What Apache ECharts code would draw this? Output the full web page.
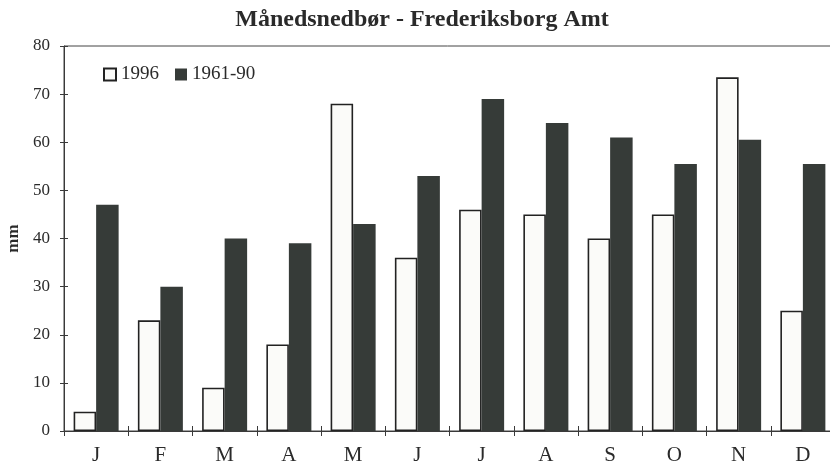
<!DOCTYPE html>
<html>
<head>
<meta charset="utf-8">
<script src="https://cdn.jsdelivr.net/npm/echarts@6/dist/echarts.min.js"></script>
<style>
html,body{margin:0;padding:0;background:#fff;}
#chart{width:830px;height:466px;}
</style>
</head>
<body>
<div id="chart"></div>
<script>
const months = ['J','F','M','A','M','J','J','A','S','O','N','D'];
const values1996 = [4, 23, 9, 18, 68, 36, 46, 45, 40, 45, 73.5, 25];
const values1961_90 = [47, 30, 40, 39, 43, 53, 69, 64, 61, 55.5, 60.5, 55.5];
const yTicks = [0, 10, 20, 30, 40, 50, 60, 70, 80];
const titleText = 'Månedsnedbør - Frederiksborg Amt';
const yName = 'mm';
const seriesNames = ['1996', '1961-90'];

const chart = echarts.init(document.getElementById('chart'), null, {renderer: 'canvas'});
const axisColor = '#3a3a3a';
const textColor = '#2a2a2a';
const serif = 'Liberation Serif';

chart.setOption({
  animation: false,
  backgroundColor: '#ffffff',
  graphic: [{
    type: 'text',
    x: 422, y: 20,
    style: {
      text: titleText,
      font: 'bold 24px "Liberation Serif"',
      fill: textColor,
      textAlign: 'center',
      textVerticalAlign: 'middle'
    }
  }],
  legend: {
    left: 98, top: 60,
    itemWidth: 12, itemHeight: 12,
    itemGap: 16,
    icon: 'rect',
    textStyle: {fontFamily: serif, fontSize: 19, color: textColor},
    data: seriesNames
  },
  grid: {
    left: 64, top: 46, width: 771, height: 385,
    outerBoundsMode: 'none',
    containLabel: false,
    show: true, borderColor: '#444', borderWidth: 1, backgroundColor: 'transparent'
  },
  xAxis: [{
    type: 'category',
    data: months,
    axisLine: {lineStyle: {color: axisColor, width: 1}},
    axisTick: {show: true, length: 5, lineStyle: {color: axisColor}},
    axisLabel: {fontFamily: serif, fontSize: 21, color: textColor, margin: 14}
  }, {
    type: 'category',
    data: months,
    position: 'bottom',
    axisLine: {show: false},
    axisTick: {show: true, inside: true, length: 5, lineStyle: {color: axisColor}},
    axisLabel: {show: false}
  }],
  yAxis: [{
    type: 'value',
    min: 0, max: 80, interval: 10,
    name: yName,
    nameLocation: 'middle',
    nameRotate: 90,
    nameGap: 38,
    nameTextStyle: {fontFamily: serif, fontSize: 17, fontWeight: 'bold', color: textColor},
    axisLine: {show: true, lineStyle: {color: axisColor, width: 1}},
    axisTick: {show: true, length: 4, lineStyle: {color: axisColor}},
    axisLabel: {fontFamily: serif, fontSize: 17, color: textColor, margin: 14,
      formatter: v => yTicks.includes(v) ? String(v) : ''},
    splitLine: {show: false}
  }, {
    type: 'value',
    min: 0, max: 80, interval: 10,
    position: 'left',
    axisLine: {show: false},
    axisTick: {show: true, inside: true, length: 4, lineStyle: {color: axisColor}},
    axisLabel: {show: false},
    splitLine: {show: false}
  }],
  series: [{
    name: seriesNames[0],
    type: 'bar',
    data: values1996,
    barWidth: 22.5,
    barGap: '0%',
    itemStyle: {color: '#fbfbf9', borderColor: '#222', borderWidth: 1.6}
  }, {
    name: seriesNames[1],
    type: 'bar',
    data: values1961_90,
    barWidth: 22.5,
    barGap: '0%',
    itemStyle: {color: '#363b38'}
  }]
});
</script>
</body>
</html>
